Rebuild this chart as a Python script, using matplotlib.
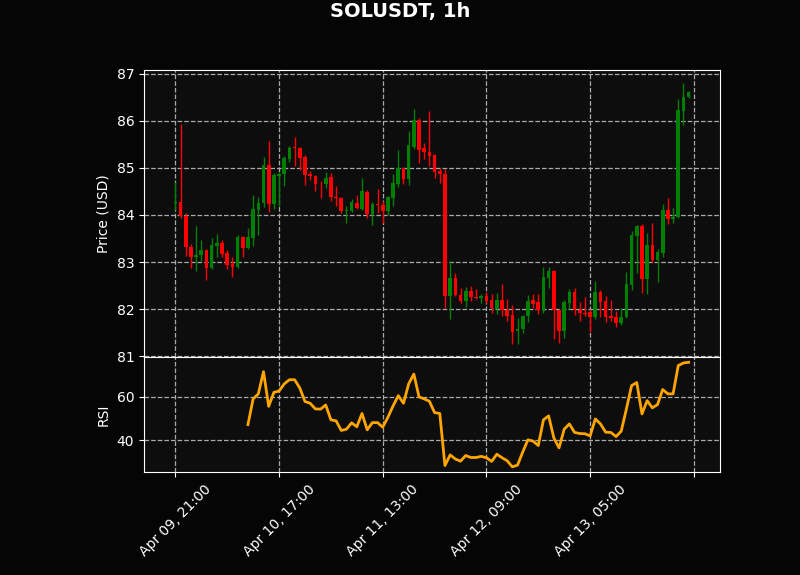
import matplotlib
matplotlib.use('Agg')
import matplotlib.pyplot as plt
import pandas as pd
from matplotlib.ticker import FuncFormatter, MultipleLocator

title = "SOLUSDT, 1h"
start_time = "2025-04-09 21:00"

opens = [84.25, 84.27, 83.97, 83.32, 83.11, 83.14, 83.25, 82.88, 83.34, 83.40,
         83.20, 82.95, 82.90, 83.53, 83.30, 83.51, 84.10, 84.25, 85.07, 84.23,
         84.82, 84.87, 85.18, 85.45, 85.43, 85.23, 84.86, 84.83, 84.66, 84.65,
         84.81, 84.39, 84.37, 84.08, 84.09, 84.26, 84.13, 84.48, 84.03, 84.24,
         84.22, 84.09, 84.35, 84.65, 85.00, 84.77, 85.45, 86.01, 85.42, 85.33,
         85.28, 84.94, 84.88, 82.27, 82.67, 82.30, 82.18, 82.39, 82.26, 82.24,
         82.28, 82.20, 82.01, 82.20, 81.98, 81.88, 81.54, 81.57, 81.85, 82.19,
         82.15, 81.97, 82.67, 82.80, 81.99, 81.53, 82.14, 82.36, 81.99, 81.92,
         81.93, 81.83, 82.37, 82.17, 81.85, 81.84, 81.70, 81.83, 82.51, 83.56,
         83.76, 82.63, 83.36, 83.04, 83.20, 84.10, 83.92, 83.95, 86.21, 86.50]
highs = [84.70, 85.94, 84.04, 83.39, 83.77, 83.46, 83.28, 83.52, 83.59, 83.46,
         83.26, 83.10, 83.58, 83.55, 83.73, 84.42, 84.39, 85.23, 85.58, 84.89,
         84.91, 85.26, 85.47, 85.65, 85.45, 85.28, 84.94, 84.84, 84.72, 84.91,
         84.89, 84.62, 84.38, 84.18, 84.34, 84.42, 84.79, 84.52, 84.27, 84.55,
         84.30, 84.41, 84.87, 85.38, 85.01, 85.79, 86.26, 86.06, 85.53, 86.20,
         85.29, 85.00, 84.98, 83.03, 82.77, 82.45, 82.47, 82.49, 82.43, 82.33,
         82.37, 82.32, 82.34, 82.54, 82.22, 82.09, 81.82, 81.87, 82.30, 82.32,
         82.32, 82.89, 82.89, 82.84, 82.00, 82.20, 82.43, 82.45, 82.16, 82.26,
         82.00, 82.59, 82.41, 82.28, 82.19, 81.97, 82.02, 82.78, 83.66, 83.78,
         83.80, 83.62, 83.83, 83.27, 84.24, 84.35, 84.14, 86.47, 86.81, 86.64]
lows = [84.10, 83.94, 83.13, 82.88, 82.81, 83.02, 82.61, 82.86, 83.11, 83.10,
        82.86, 82.69, 82.88, 83.10, 83.28, 83.34, 83.57, 84.16, 84.06, 84.12,
        84.20, 84.62, 85.12, 85.04, 84.96, 84.64, 84.74, 84.51, 84.36, 84.57,
        84.29, 84.20, 84.04, 83.84, 84.06, 84.13, 84.11, 83.93, 83.78, 84.04,
        83.83, 83.99, 84.18, 84.59, 84.65, 84.63, 85.40, 85.10, 85.18, 85.05,
        84.79, 84.67, 82.02, 81.79, 82.27, 82.13, 82.04, 82.18, 82.21, 82.13,
        82.14, 81.92, 81.89, 81.85, 81.74, 81.27, 81.26, 81.50, 81.72, 82.03,
        81.90, 81.92, 82.44, 81.36, 81.29, 81.39, 82.00, 81.88, 81.74, 81.85,
        81.52, 81.80, 81.84, 81.73, 81.75, 81.62, 81.66, 81.81, 82.40, 82.77,
        82.35, 82.33, 83.01, 82.57, 83.10, 83.81, 83.82, 83.94, 85.90, 86.49]
closes = [84.27, 83.97, 83.32, 83.11, 83.16, 83.25, 82.88, 83.36, 83.40, 83.18,
          82.93, 82.90, 83.53, 83.30, 83.53, 84.12, 84.26, 85.07, 84.23, 84.84,
          84.87, 85.21, 85.43, 85.43, 85.21, 84.84, 84.82, 84.65, 84.65, 84.79,
          84.38, 84.35, 84.08, 84.11, 84.28, 84.14, 84.50, 84.03, 84.24, 84.22,
          84.09, 84.38, 84.67, 85.00, 84.77, 85.48, 86.01, 85.37, 85.33, 85.26,
          84.91, 84.88, 82.28, 82.67, 82.30, 82.18, 82.39, 82.25, 82.24, 82.28,
          82.18, 82.02, 82.20, 81.98, 81.86, 81.52, 81.58, 81.86, 82.18, 82.11,
          81.99, 82.68, 82.81, 81.99, 81.53, 82.15, 82.36, 81.99, 81.92, 81.90,
          81.84, 82.37, 82.16, 81.83, 81.82, 81.71, 81.84, 82.53, 83.58, 83.77,
          82.64, 83.36, 83.04, 83.22, 84.10, 83.92, 83.96, 86.22, 86.51, 86.62]

rsi_start = 14
rsi_values = [47.3, 59.1, 61.4, 71.6, 55.7, 62.1, 62.7, 66.0, 67.9, 67.9,
              64.1, 57.9, 57.1, 54.5, 54.4, 56.3, 49.5, 49.0, 44.6, 45.2,
              48.1, 46.3, 52.4, 44.9, 48.2, 48.2, 46.1, 50.7, 55.9, 60.6,
              57.1, 66.0, 70.5, 60.0, 59.1, 58.0, 52.8, 52.4, 28.5, 33.4,
              31.5, 30.5, 33.1, 32.2, 32.2, 32.7, 32.1, 30.4, 33.7, 32.1,
              30.7, 27.9, 28.7, 34.7, 40.3, 39.7, 37.7, 49.5, 51.3, 41.2,
              36.6, 45.2, 47.6, 43.7, 43.2, 43.1, 42.1, 49.9, 47.6, 43.8,
              43.7, 41.8, 44.3, 54.5, 65.2, 66.6, 52.2, 58.3, 55.0, 56.5,
              63.4, 61.4, 61.4, 74.4, 75.6, 75.9]

times = pd.date_range(start_time, periods=len(closes), freq='h')
idx = list(range(len(closes)))

plt.style.use('dark_background')
fig = plt.figure(figsize=(8, 5.75), dpi=100, facecolor='#050505')
gs = fig.add_gridspec(2, 1, height_ratios=[2.5, 1], hspace=0,
                      left=0.18, right=0.9, top=0.879, bottom=0.179)
ax = fig.add_subplot(gs[0])
ax2 = fig.add_subplot(gs[1], sharex=ax)

for a in (ax, ax2):
    a.set_facecolor('#0d0d0d')
    a.grid(True, linestyle='--', color='#aaaaaa', linewidth=0.9)
    a.set_axisbelow(True)
    for s in a.spines.values():
        s.set_color('white')

up_c, down_c = '#008000', '#ff0000'
for i, o, h, l, c in zip(idx, opens, highs, lows, closes):
    col = up_c if c >= o else down_c
    ax.vlines(i, l, h, color=col, linewidth=1, zorder=2)
    ax.bar(i, abs(c - o), bottom=min(o, c), width=0.7, color=col, zorder=3)

ax.set_ylabel('Price (USD)', color='white')
ax.tick_params(axis='x', labelbottom=False)

rsi_x = idx[rsi_start:rsi_start + len(rsi_values)]
ax2.plot(rsi_x, rsi_values, color='#ffa500', linewidth=2)
ax2.set_ylabel('RSI', color='white')

def fmt(x, pos):
    k = int(round(x))
    if 0 <= k < len(times):
        return times[k].strftime('%b %d, %H:%M')
    return ''

ax2.xaxis.set_major_locator(MultipleLocator(20))
ax2.xaxis.set_major_formatter(FuncFormatter(fmt))
ax2.set_xlim(-6.05, 105.05)
plt.setp(ax2.get_xticklabels(), rotation=45)

fig.suptitle(title, fontsize=14, fontweight='bold', color='white', y=0.98, va='center')

fig.savefig('out.png', dpi=100, facecolor=fig.get_facecolor())
